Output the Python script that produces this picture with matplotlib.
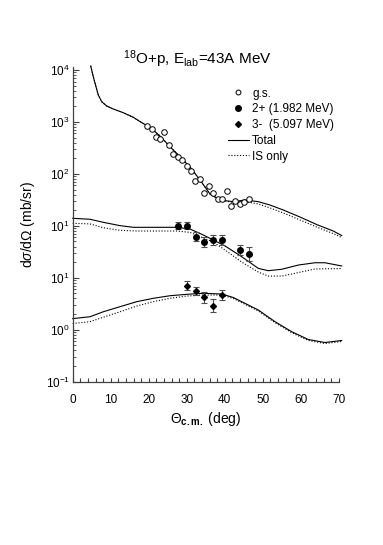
import matplotlib
matplotlib.use("Agg")
import matplotlib.pyplot as plt
from matplotlib.lines import Line2D
from matplotlib.ticker import FixedLocator, NullFormatter

plt.rcParams['font.family'] = ['Liberation Sans', 'DejaVu Sans']
plt.rcParams['mathtext.fontset'] = 'custom'
plt.rcParams['mathtext.rm'] = 'Liberation Sans'
plt.rcParams['mathtext.it'] = 'Liberation Sans:italic'
plt.rcParams['mathtext.bf'] = 'Liberation Sans:bold'

# ---------------- data (axis units) ----------------
gs_x = [19.5, 20.8, 21.8, 23.0, 24.1, 25.4, 26.5, 27.6, 28.8, 30.0, 31.1, 32.3,
        33.5, 34.6, 35.9, 37.0, 38.2, 39.3, 40.5, 41.7, 42.8, 44.0, 45.2, 46.3]
gs_y = [840, 731, 520, 464, 631, 355, 242, 214, 183, 144, 115, 73,
        80, 43, 58, 42, 33, 33, 47.5, 24.4, 30.5, 26.3, 29.2, 32.5]

s2_x = [27.6, 30.0, 32.4, 34.6, 37.0, 39.3, 43.9, 46.3]
s2_y = [10.1, 10.1, 6.2, 4.95, 5.3, 5.3, 3.43, 2.87]
s2_lo = [1.57, 1.57, 1.13, 1.02, 1.05, 1.05, 0.68, 0.74]
s2_hi = [1.85, 1.85, 1.38, 1.28, 1.31, 1.31, 0.85, 0.99]

s3_x = [30.0, 32.4, 34.6, 37.0, 39.3]
s3_y = [0.705, 0.557, 0.421, 0.29, 0.466]
s3_lo = [0.129, 0.094, 0.090, 0.075, 0.085]
s3_hi = [0.157, 0.113, 0.115, 0.100, 0.104]

gs_tot_x = [4.74, 5.42, 6.13, 6.74, 7.63, 8.95, 10.68, 13.32, 15.95, 18.11, 20.34,
            22.97, 25.61, 28.24, 30.87, 33.5, 36.13, 38.76, 42.26, 45.34, 48.84,
            51.92, 55.42, 59.82, 64.21, 68.58, 70.79]
gs_tot_y = [11940, 7430, 4770, 3300, 2455, 2030, 1775, 1507, 1230, 976, 789,
            537, 334, 214, 136, 76.4, 41, 31.5, 29.2, 31.5, 29.2,
            25.2, 20.2, 14.8, 10.6, 7.96, 6.5]
gs_is_x = [4.74, 5.42, 6.13, 6.74, 7.63, 8.95, 10.68, 13.32, 15.95, 18.11, 20.34,
           22.97, 25.61, 28.24, 30.87, 33.5, 36.13, 38.76, 42.26, 45.34, 48.84,
           51.92, 55.42, 59.82, 64.21, 68.58, 70.79]
gs_is_y = [11940, 7430, 4770, 3300, 2455, 2030, 1775, 1507, 1230, 976, 789,
           537, 334, 214, 136, 76.4, 41, 31.5, 28.1, 29.4, 26.4,
           22.1, 17.7, 13.0, 9.5, 7.1, 5.97]

s2_tot_x = [0.0, 4.55, 8.05, 12.45, 15.95, 21.2, 27.37, 30.87, 34.37, 37.0, 40.08,
            44.47, 48.84, 51.47, 55.0, 59.37, 63.76, 66.39, 70.79]
s2_tot_y = [13.97, 13.4, 11.7, 10.1, 9.38, 9.38, 9.38, 8.7, 6.67, 5.35, 4.1,
            2.55, 1.52, 1.37, 1.46, 1.76, 1.95, 1.95, 1.69]
s2_is_x = [0.0, 4.55, 8.05, 12.45, 16.84, 27.37, 30.87, 34.37, 37.0, 40.08,
           44.47, 48.84, 51.47, 55.0, 59.37, 63.76, 70.79]
s2_is_y = [11.2, 10.9, 9.2, 8.2, 7.96, 7.96, 7.5, 5.83, 4.89, 3.43,
           2.01, 1.29, 1.08, 1.08, 1.26, 1.48, 1.51]

s3_tot_x = [0.0, 4.55, 8.05, 12.45, 16.84, 21.2, 25.6, 30.0, 34.37, 39.2, 42.26,
            44.47, 48.84, 53.24, 57.63, 62.0, 66.39, 70.79]
s3_tot_y = [0.164, 0.178, 0.222, 0.278, 0.347, 0.403, 0.452, 0.481, 0.503, 0.488,
            0.418, 0.347, 0.24, 0.143, 0.0918, 0.0649, 0.0568, 0.0621]
s3_is_x = [0.0, 4.55, 8.05, 12.45, 16.84, 21.2, 25.6, 30.0, 34.37, 39.2, 42.26,
           44.47, 48.84, 53.24, 57.63, 62.0, 66.39, 70.79]
s3_is_y = [0.132, 0.143, 0.174, 0.222, 0.286, 0.347, 0.403, 0.446, 0.466, 0.466,
           0.40, 0.332, 0.23, 0.137, 0.0877, 0.0621, 0.0543, 0.0594]

y_tick_vals = [1e-2, 1e-1, 1e0, 1e1, 1e2, 1e3, 1e4]
y_tick_labels = [r'$10^{-1}$', r'$10^{0}$', r'$10^{1}$', r'$10^{1}$',
                 r'$10^{2}$', r'$10^{3}$', r'$10^{4}$']
x_tick_vals = [0, 10, 20, 30, 40, 50, 60, 70]

legend_labels = ['g.s.', '2+ (1.982 MeV)', '3-  (5.097 MeV)', 'Total', 'IS only']

# ---------------- figure ----------------
W, H = 383, 545
fig = plt.figure(figsize=(W / 100, H / 100), dpi=100)
ax = fig.add_axes([72.7 / W, 1 - 381.7 / H, (338.7 - 72.7) / W, (381.7 - 66.7) / H])

axcol = '0.25'
lw = 0.8
dot = (0, (1.0, 1.6))

ax.plot(gs_tot_x, gs_tot_y, color='k', lw=lw, clip_on=False)
ax.plot(gs_is_x, gs_is_y, color='k', lw=lw, linestyle=dot, clip_on=False)
ax.plot(s2_tot_x, s2_tot_y, color='k', lw=lw, clip_on=False)
ax.plot(s2_is_x, s2_is_y, color='k', lw=lw, linestyle=dot, clip_on=False)
ax.plot(s3_tot_x, s3_tot_y, color='k', lw=lw, clip_on=False)
ax.plot(s3_is_x, s3_is_y, color='k', lw=lw, linestyle=dot, clip_on=False)

ax.plot(gs_x, gs_y, linestyle='none', marker='o', ms=4.0, mfc='white',
        mec='k', mew=0.7, zorder=5)
ax.errorbar(s2_x, s2_y, yerr=[s2_lo, s2_hi], fmt='o', ms=4.0, color='k',
            ecolor='0.3', elinewidth=0.8, capsize=2, capthick=0.8, zorder=5)
ax.errorbar(s3_x, s3_y, yerr=[s3_lo, s3_hi], fmt='D', ms=3.0, color='k',
            ecolor='0.3', elinewidth=0.8, capsize=2, capthick=0.8, zorder=5)

ax.set_yscale('log')
ax.set_xlim(0, 70)
ax.set_ylim(1e-2, 10 ** 4.064)

for s in ['top', 'right']:
    ax.spines[s].set_visible(False)
for s in ['left', 'bottom']:
    ax.spines[s].set_color(axcol)
    ax.spines[s].set_linewidth(0.9)

ax.yaxis.set_major_locator(FixedLocator(y_tick_vals))
ax.set_yticklabels(y_tick_labels)
minor = [m * 10 ** e for e in range(-2, 4) for m in range(2, 10)]
ax.yaxis.set_minor_locator(FixedLocator(minor))
ax.yaxis.set_minor_formatter(NullFormatter())
ax.set_xticks(x_tick_vals)
ax.set_xticks(list(range(0, 71, 2)), minor=True)

ax.tick_params(axis='both', which='both', direction='in', color=axcol,
               labelsize=8.5, pad=4)
ax.tick_params(axis='y', which='major', length=4, width=0.8, pad=2)
ax.tick_params(axis='y', which='minor', length=2.5, width=0.6)
ax.tick_params(axis='x', which='major', length=3, width=0.8, pad=9)
ax.tick_params(axis='x', which='minor', length=3, width=0.8)

ax.set_ylabel(r'd$\sigma$/d$\Omega$ (mb/sr)', fontsize=10, labelpad=6)
ax.set_xlabel(r'$\Theta_{\mathbf{c.m.}}$ (deg)', fontsize=10, labelpad=3)

fig.text(197 / W, 1 - 59 / H, r'$^{18}$O+p, E$_{\rm lab}$=43A MeV',
         fontsize=11, ha='center', va='center')

handles = [
    Line2D([], [], linestyle='none', marker='o', ms=3.5, mfc='white', mec='k', mew=0.7),
    Line2D([], [], linestyle='none', marker='o', ms=4, color='k'),
    Line2D([], [], linestyle='none', marker='D', ms=3, color='k'),
    Line2D([], [], color='k', lw=lw),
    Line2D([], [], color='k', lw=lw, linestyle=dot),
]
fig.legend(handles, legend_labels, loc='upper left',
           bbox_to_anchor=(228 / W, 1 - 87.5 / H), frameon=False, fontsize=8.5,
           handlelength=1.75, handletextpad=0.3, labelspacing=0.32,
           borderpad=0, borderaxespad=0)

fig.savefig('out.png', dpi=100)
